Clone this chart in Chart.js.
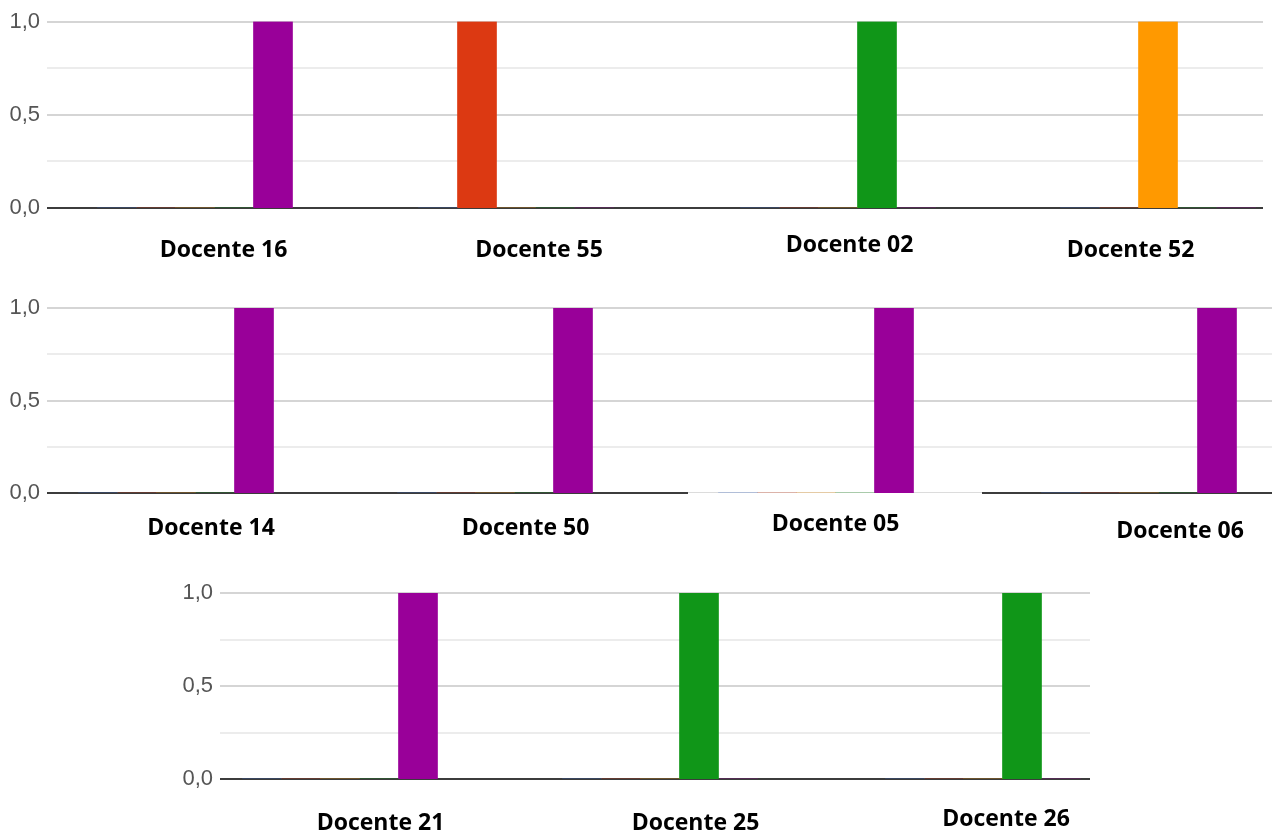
<!DOCTYPE html>
<html>
<head>
<meta charset="utf-8">
<script src="https://cdn.jsdelivr.net/npm/chart.js@4.4.0/dist/chart.umd.min.js"></script>
<style>
  html, body { margin: 0; padding: 0; background: #ffffff; }
  body { position: relative; width: 1272px; height: 830px; overflow: hidden; }
  canvas { position: absolute; }
  .patch { position: absolute; background: #ffffff; border-top: 1px solid #dcdcdc; }
</style>
</head>
<body>
<script>
// ---------------- DATA ----------------
const docentes = ['Docente 16', 'Docente 55', 'Docente 02', 'Docente 52',
                  'Docente 14', 'Docente 50', 'Docente 05', 'Docente 06',
                  'Docente 21', 'Docente 25', 'Docente 26'];
const seriesNames  = ['Série 1', 'Série 2', 'Série 3', 'Série 4', 'Série 5'];
const serie1 = [0, 0, 0, 0, 0, 0, 0, 0, 0, 0, 0];
const serie2 = [0, 1, 0, 0, 0, 0, 0, 0, 0, 0, 0];
const serie3 = [0, 0, 0, 1, 0, 0, 0, 0, 0, 0, 0];
const serie4 = [0, 0, 1, 0, 0, 0, 0, 0, 0, 1, 1];
const serie5 = [1, 0, 0, 0, 1, 1, 1, 1, 1, 0, 0];
const yTickValues = [0, 0.25, 0.5, 0.75, 1];
const yTickLabels = ['0,0', '', '0,5', '', '1,0'];

// ---------------- STYLE / LAYOUT ----------------
const seriesColors = ['#3366CC', '#DC3912', '#FF9900', '#109618', '#990099'];
const allSeries = [serie1, serie2, serie3, serie4, serie5];
const rows = [
  { canvasTop: 0,   y1: 21.5, y0: 208, left: 47,  right: 1263, members: [0, 1, 2, 3] },
  { canvasTop: 288, y1: 308,  y0: 493, left: 47,  right: 1272, members: [4, 5, 6, 7] },
  { canvasTop: 573, y1: 593,  y0: 779, left: 220, right: 1090, members: [8, 9, 10] }
];
const panelCenter = [195, 515.5, 837.5, 1157.5, 175.5, 494.5, 815.5, 1138.5, 339.5, 659.5, 982.5];
const labelShift  = [28.5, 23, 11.5, -27.5, 35, 30.5, 19.5, 41, 40.5, 35.5, 23];
const labelDrop   = [40, 40, 35.5, 40, 33, 33, 29, 36, 42, 42, 38];
const PANEL_W = 240, AXIS_H = 60, BAR_W = 39, LABEL_SIZE = 23;

function makeCanvas(left, top, w, h) {
  const c = document.createElement('canvas');
  c.width = w; c.height = h;
  c.style.left = left + 'px'; c.style.top = top + 'px';
  c.style.width = w + 'px'; c.style.height = h + 'px';
  document.body.appendChild(c);
  return c;
}

// background charts: y axis + gridlines for each row
rows.forEach(row => {
  const padTop = row.y1 - row.canvasTop;
  const h = Math.round(row.y0 - row.canvasTop + AXIS_H);
  const c = makeCanvas(0, row.canvasTop, row.right, h);
  new Chart(c, {
    type: 'bar',
    data: { labels: row.members.map(i => docentes[i]), datasets: [] },
    options: {
      responsive: false, animation: false, events: [],
      layout: { padding: { top: padTop, bottom: 0, left: 0, right: 0 } },
      plugins: { legend: { display: false }, tooltip: { enabled: false } },
      scales: {
        x: {
          grid: { display: false }, border: { display: false },
          ticks: { display: false },
          afterFit(s) { s.height = AXIS_H; }
        },
        y: {
          min: 0, max: 1,
          afterFit(s) { s.width = row.left; },
          border: { display: false },
          grid: {
            drawTicks: false,
            lineWidth: 2,
            color: ctx => ctx.tick.value === 0 ? '#3c3c3c'
                        : (yTickLabels[yTickValues.indexOf(ctx.tick.value)] ? '#d5d5d5' : '#ececec')
          },
          ticks: {
            stepSize: 0.25, padding: 7,
            color: '#555555',
            font: { family: "'Liberation Sans', Arial, sans-serif", size: 22 },
            callback: v => { const k = yTickValues.indexOf(v); return k >= 0 ? yTickLabels[k] : ''; }
          }
        }
      }
    }
  });
});

// white patch over the row-2 baseline (pasted panel in the original)
const patch = document.createElement('div');
patch.className = 'patch';
patch.style.left = '688px'; patch.style.top = '492px';
patch.style.width = '294px'; patch.style.height = '4px';
document.body.appendChild(patch);

// panel overlays: bars + category label
rows.forEach(row => {
  const padTop = row.y1 - row.canvasTop;
  const h = Math.round(row.y0 - row.canvasTop + AXIS_H);
  row.members.forEach(i => {
    const c = makeCanvas(Math.round(panelCenter[i] - PANEL_W / 2), row.canvasTop, PANEL_W, h);
    new Chart(c, {
      type: 'bar',
      data: {
        labels: [docentes[i]],
        datasets: allSeries.map((arr, k) => ({
          label: seriesNames[k],
          data: [arr[i]],
          backgroundColor: seriesColors[k],
          borderWidth: 0,
          barThickness: BAR_W
        }))
      },
      options: {
        responsive: false, animation: false, events: [],
        layout: { padding: { top: padTop, bottom: 0, left: 0, right: 0 } },
        plugins: { legend: { display: false }, tooltip: { enabled: false } },
        scales: {
          x: {
            grid: { display: false }, border: { display: false },
            afterFit(s) { s.height = AXIS_H; },
            ticks: {
              autoSkip: false, maxRotation: 0,
              labelOffset: labelShift[i],
              padding: labelDrop[i] - LABEL_SIZE * 0.6 - 6,
              color: '#000000',
              font: { family: "'Open Sans', sans-serif", weight: 'bold', size: LABEL_SIZE }
            }
          },
          y: { display: false, min: 0, max: 1 }
        }
      }
    });
  });
});
</script>
</body>
</html>
